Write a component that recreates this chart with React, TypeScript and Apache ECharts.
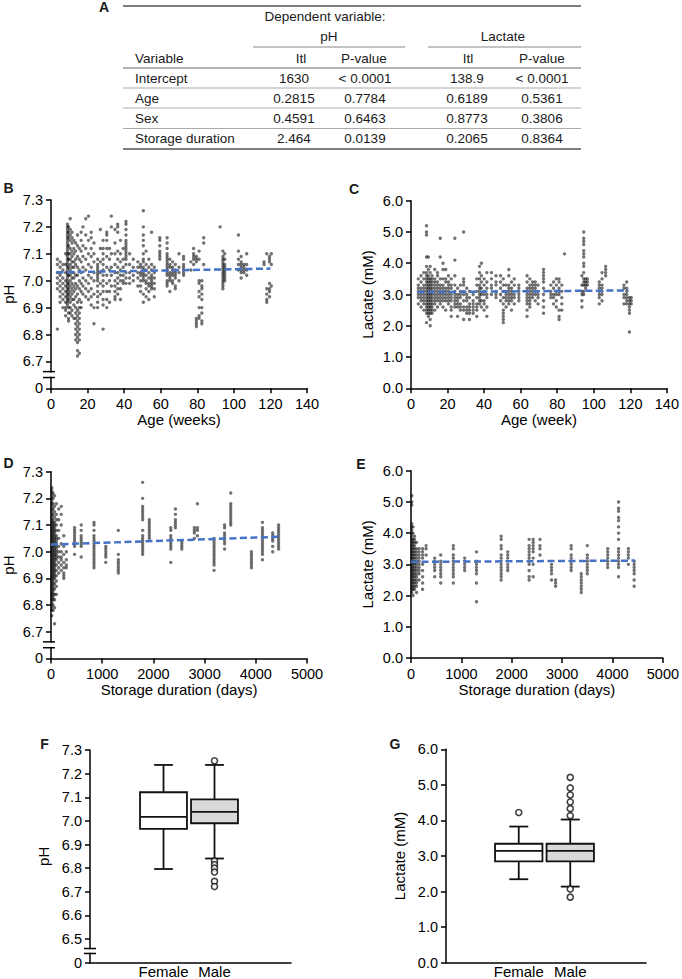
import React, { useEffect, useRef } from 'react';
import * as echarts from 'echarts';

const FONT = '"Liberation Sans", Arial, Helvetica, sans-serif';

// ---------- Table (panel A) ----------
const tableVariables = ['Intercept', 'Age', 'Sex', 'Storage duration'];
const pHTl = ['1630', '0.2815', '0.4591', '2.464'];
const pHP = ['< 0.0001', '0.7784', '0.6463', '0.0139'];
const lacTl = ['138.9', '0.6189', '0.8773', '0.2065'];
const lacP = ['< 0.0001', '0.5361', '0.3806', '0.8364'];

// ---------- Scatter data: [x, [y values]] ----------
const ageVsPH: [number, number[]][] = [
  [3.5, [7.08, 7.06, 7.03, 7.01, 6.99, 6.97, 6.82]],
  [5, [7.07, 7.05, 7.03, 7.02, 7.0, 6.98, 6.96, 6.94, 6.92]],
  [6.5, [7.06, 7.04, 7.01, 6.99, 6.97, 6.95, 6.93, 6.9]],
  [8, [7.1, 7.06, 7.03, 7.0, 6.98, 6.96, 6.94, 6.92, 6.9, 6.89, 6.87]],
  [9, [7.21, 7.2, 7.19, 7.18, 7.17, 7.16, 7.15, 7.14, 7.13, 7.12, 7.11, 7.1, 7.09, 7.08, 7.07, 7.06, 7.05, 7.04, 7.03, 7.02, 7.01, 7.0, 6.99, 6.98, 6.97, 6.96, 6.95, 6.94, 6.93, 6.92, 6.91]],
  [9.6, [7.2, 7.18, 7.16, 7.13, 7.1, 7.08, 7.05, 7.02, 6.99, 6.97, 6.95, 6.93, 6.9, 6.88, 6.86, 6.85]],
  [10.5, [7.23, 7.19, 7.17, 7.15, 7.12, 7.1, 7.08, 7.06, 7.04, 7.02, 7.0, 6.98, 6.96, 6.94, 6.92, 6.9, 6.88]],
  [11.5, [7.18, 7.16, 7.14, 7.11, 7.09, 7.07, 7.05, 7.03, 7.01, 6.99, 6.97, 6.95, 6.93, 6.89, 6.87]],
  [12.5, [7.15, 7.12, 7.1, 7.07, 7.05, 7.03, 7.01, 6.98, 6.96, 6.93, 6.91, 6.86]],
  [13.5, [7.14, 7.11, 7.08, 7.06, 7.02, 6.99, 6.97, 6.94, 6.9, 6.88, 6.86, 6.84, 6.82, 6.8, 6.78]],
  [14.5, [7.17, 7.13, 7.09, 7.05, 7.02, 6.98, 6.95, 6.92, 6.89, 6.87, 6.85, 6.83, 6.81, 6.79, 6.77, 6.74, 6.72]],
  [15.5, [7.12, 7.08, 7.04, 7.0, 6.97, 6.93, 6.9, 6.88, 6.86, 6.84, 6.82, 6.8, 6.78, 6.73]],
  [16.5, [7.18, 7.15, 7.11, 7.07, 7.03, 6.99, 6.96, 6.92, 6.9]],
  [17.5, [7.2, 7.13, 7.09, 7.05, 7.01, 6.98, 6.95]],
  [19, [7.23, 7.17, 7.12, 7.08, 7.04, 7.0, 6.97, 6.94]],
  [20.5, [7.24, 7.15, 7.1, 7.06, 7.02, 6.99, 6.96, 6.93]],
  [22, [7.18, 7.16, 7.12, 7.09, 7.05, 7.01, 6.97, 6.94, 6.91]],
  [23.5, [7.14, 7.1, 7.07, 7.03, 7.0, 6.95, 6.9, 6.84]],
  [25.5, [7.08, 7.06, 7.05, 7.04, 7.03, 7.02, 7.01, 7.0, 6.98, 6.96, 6.94, 6.92, 6.9]],
  [27, [7.19, 7.12, 7.07, 7.03, 6.99, 6.95]],
  [28.5, [7.15, 7.12, 7.1, 7.08, 7.06, 7.04, 7.02, 7.0, 6.98, 6.96, 6.93, 6.91, 6.82]],
  [30.5, [7.18, 7.17, 7.15, 7.12, 7.09, 7.05, 7.02, 6.99, 6.96, 6.93, 6.9]],
  [32, [7.12, 7.08, 7.04, 7.0, 6.96, 6.92]],
  [33, [7.24, 7.2, 7.1, 7.05, 7.02, 6.98]],
  [35, [7.19, 7.14, 7.1, 7.06, 7.03, 7.0, 6.98, 6.96, 6.94, 6.93]],
  [36.5, [7.21, 7.2, 7.18, 7.11, 7.08, 7.05, 7.03, 7.01, 6.99, 6.97, 6.95]],
  [38, [7.15, 7.1, 7.07, 7.04, 7.02, 7.0, 6.97, 6.93]],
  [39.5, [7.12, 7.08, 7.05, 7.02, 7.0, 6.99]],
  [41, [7.22, 7.21, 7.19, 7.17, 7.15, 7.14, 7.13, 7.12, 7.11, 7.1, 7.09, 7.08, 7.06, 7.03, 7.01, 6.99]],
  [43, [7.1, 7.06, 7.03, 7.01, 6.99]],
  [45, [7.08, 7.05, 7.02, 7.0]],
  [47.5, [7.07, 7.05, 7.03, 7.01, 6.98]],
  [49, [7.06, 7.05, 7.03, 7.02, 7.0, 6.98, 6.96]],
  [50.5, [7.26, 7.2, 7.17, 7.15, 7.13, 7.1, 7.08, 7.07, 7.05, 7.04, 7.03, 7.02, 7.01, 7.0, 6.95, 6.92]],
  [52, [7.11, 7.06, 7.04, 7.02, 7.0, 6.99, 6.97, 6.94]],
  [53.5, [7.08, 7.05, 7.03, 7.01, 6.99, 6.98, 6.96, 6.93]],
  [55, [7.18, 7.06, 7.04, 7.02, 7.01, 7.0, 6.99, 6.98, 6.97]],
  [56.5, [7.05, 7.03, 7.01, 6.99, 6.97, 6.94]],
  [59.5, [7.16, 7.15, 7.13, 7.11, 7.1, 7.09, 7.08]],
  [63.5, [7.16, 7.14, 7.12, 7.1, 7.09, 7.08, 7.07, 7.06, 7.05, 7.04, 7.03, 7.02, 7.0, 6.99, 6.98]],
  [65, [7.08, 7.06, 7.05, 7.03, 7.02, 7.01, 7.0, 6.96]],
  [66.5, [7.07, 7.05, 7.04, 7.03, 7.02, 7.0, 6.99]],
  [68, [7.06, 7.04, 7.03, 7.02, 7.01, 6.98, 6.97]],
  [70, [7.1, 7.05, 7.03, 7.0]],
  [72.5, [7.09, 7.08, 7.06, 7.05, 7.04, 7.03, 7.02]],
  [76.5, [7.07, 7.04]],
  [78, [7.12, 7.1, 7.09, 7.08, 7.06]],
  [79.5, [7.09, 7.08, 7.07, 6.86, 6.85, 6.84, 6.83]],
  [81, [7.11, 7.08, 7.0, 6.99, 6.96, 6.94, 6.9, 6.87, 6.86]],
  [82.5, [7.0, 6.98, 6.97, 6.95, 6.93, 6.9, 6.88, 6.85, 6.84]],
  [83.5, [7.16, 7.14, 7.06]],
  [92.5, [7.2]],
  [94, [7.11, 7.09, 7.08, 7.07, 7.06, 7.05, 7.04, 7.03, 7.02, 7.01, 7.0, 6.99, 6.98, 6.97]],
  [95, [7.1, 7.08, 7.06, 7.05, 7.04, 7.03, 7.02, 7.01, 7.0]],
  [102.5, [7.17, 7.11, 7.08, 7.06, 7.04]],
  [104, [7.09, 7.07, 7.06, 7.05, 7.04, 7.03, 7.01]],
  [105.5, [7.06, 7.05, 7.04, 7.03]],
  [107, [7.1, 7.06, 7.04, 7.02]],
  [116.5, [7.07, 7.06]],
  [118, [7.1, 6.97, 6.95, 6.93, 6.92]],
  [119.5, [7.09, 7.08, 7.07, 6.99, 6.97, 6.96, 6.94]],
  [120.5, [7.1, 7.06, 6.98]],
];

const ageVsLac: [number, number[]][] = [
  [4, [3.5, 3.3, 3.2, 3.1, 3.0, 2.9, 2.7]],
  [5.5, [3.6, 3.4, 3.2, 3.1, 3.0, 2.9, 2.8, 2.6]],
  [7, [3.7, 3.5, 3.3, 3.2, 3.1, 3.0, 2.9, 2.8, 2.7, 2.5]],
  [8.5, [5.2, 5.0, 4.9, 4.2, 3.9, 3.7, 3.6, 3.5, 3.4, 3.3, 3.2, 3.1, 3.0, 2.9, 2.8, 2.7, 2.6, 2.5, 2.4, 2.1]],
  [9.5, [4.2, 3.8, 3.6, 3.5, 3.4, 3.3, 3.2, 3.1, 3.0, 2.9, 2.8, 2.7, 2.6, 2.5, 2.4, 2.3]],
  [10.5, [3.9, 3.7, 3.5, 3.4, 3.3, 3.2, 3.1, 3.0, 2.9, 2.8, 2.7, 2.6, 2.5, 2.4, 2.2, 2.0]],
  [11.5, [3.6, 3.5, 3.4, 3.3, 3.2, 3.1, 3.0, 2.9, 2.8, 2.7, 2.6, 2.5, 2.4]],
  [13, [3.8, 3.5, 3.4, 3.3, 3.2, 3.1, 3.0, 2.9, 2.8, 2.7, 2.5]],
  [14.5, [3.7, 3.6, 3.4, 3.3, 3.2, 3.1, 3.0, 2.9, 2.8, 2.6]],
  [16, [4.8, 4.2, 3.5, 3.3, 3.2, 3.1, 3.0, 2.9, 2.8, 2.7]],
  [17.5, [4.0, 3.8, 3.5, 3.3, 3.2, 3.1, 3.0, 2.9, 2.8, 2.6]],
  [19, [3.8, 3.5, 3.4, 3.2, 3.1, 3.0, 2.9, 2.8, 2.5]],
  [20.5, [3.6, 3.4, 3.3, 3.2, 3.1, 3.0, 2.9, 2.8, 2.7]],
  [22, [3.5, 3.3, 3.2, 3.0, 2.9, 2.8, 2.6, 2.5, 2.3]],
  [24, [4.8, 4.1, 3.6, 3.3, 3.1, 3.0, 2.9, 2.8, 2.7, 2.6]],
  [25.5, [3.2, 3.0, 2.9, 2.8, 2.7, 2.6, 2.3]],
  [27, [3.3, 3.1, 3.0, 2.9, 2.7, 2.6, 2.5]],
  [28.8, [5.0, 3.5, 3.4, 3.3, 3.1, 3.0, 2.8, 2.6, 2.5, 2.2]],
  [30.5, [3.2, 3.0, 2.9, 2.8, 2.6, 2.5, 2.4]],
  [32, [3.1, 2.9, 2.7, 2.6, 2.5, 2.4, 2.2]],
  [34, [3.0, 2.8, 2.7, 2.6, 2.5, 2.4]],
  [36, [3.5, 3.3, 3.1, 2.9, 2.7, 2.6, 2.5, 2.3]],
  [37.5, [3.9, 3.7, 3.5, 3.3, 3.2, 3.1, 3.0, 2.9, 2.8, 2.7]],
  [38.5, [4.0, 3.6, 3.4, 3.2, 3.0, 2.8, 2.6]],
  [40, [3.5, 3.3, 3.1, 3.0, 2.8, 2.7, 2.5]],
  [41.5, [3.7, 3.4, 3.2, 3.0, 2.9, 2.6, 2.3]],
  [44, [3.7, 3.5, 3.3, 3.2, 3.0]],
  [46.5, [3.6, 3.4, 3.3, 3.1, 3.0, 2.9]],
  [49, [3.6, 3.4, 3.2, 3.0, 2.8]],
  [50.5, [3.5, 3.3, 3.1, 2.9, 2.7, 2.5, 2.4, 2.3, 2.2, 2.1]],
  [52, [3.3, 3.1, 3.0, 2.9, 2.8, 2.6]],
  [53.5, [3.8, 3.6, 3.3, 3.2, 3.1, 3.0, 2.9, 2.8, 2.7]],
  [55, [3.4, 3.2, 3.1, 3.0, 2.9, 2.8, 2.5]],
  [56.5, [3.5, 3.3, 3.0, 2.9, 2.7]],
  [59, [3.3, 3.2, 3.1, 3.0, 2.9, 2.8]],
  [63.5, [3.6, 3.4, 3.2, 3.1, 3.0, 2.9, 2.8, 2.7, 2.5, 2.3]],
  [65, [3.5, 3.3, 3.2, 3.1, 3.0, 2.9, 2.8, 2.7, 2.6]],
  [66.5, [3.4, 3.3, 3.2, 3.1, 3.0, 2.9]],
  [68, [3.4, 3.3, 3.2, 3.1, 3.0, 2.8]],
  [69.5, [3.3, 3.1, 3.0, 2.9, 2.7]],
  [72.5, [3.8, 3.7, 3.6, 3.5, 3.4, 3.2, 3.0, 2.8, 2.6, 2.4]],
  [76.5, [3.3, 3.1, 3.0, 2.9]],
  [78, [3.4, 3.2, 3.0, 2.9, 2.7]],
  [79.5, [3.5, 3.3, 3.1, 3.0, 2.8, 2.6]],
  [81, [3.5, 3.4, 3.2, 3.1, 3.0, 2.5, 2.3, 2.2]],
  [82.5, [3.3, 3.1, 2.9, 2.7, 2.5]],
  [84, [4.3]],
  [93.5, [3.6, 3.3, 3.1, 3.0, 2.8, 2.6]],
  [94.5, [5.0, 4.8, 4.7, 4.6, 4.4, 4.3, 4.2, 4.0, 3.9, 3.7, 3.5, 3.4, 3.3, 3.1, 3.0]],
  [95.5, [3.5, 3.4, 3.3, 3.2]],
  [96.5, [3.5, 3.4, 3.3]],
  [103, [3.4, 3.3, 3.2, 3.1, 3.0, 2.9, 2.7]],
  [104.5, [3.7, 3.5, 3.3, 3.2, 3.1, 3.0, 2.8]],
  [106.5, [3.9, 3.8, 3.7, 3.6]],
  [116.5, [3.3, 3.2, 3.0, 2.9, 2.7]],
  [118, [3.4, 3.2, 3.1, 3.0, 2.9, 2.8, 2.7]],
  [119.5, [2.9, 2.8, 2.7, 2.6, 2.5, 2.4, 1.8]],
  [120.5, [2.9, 2.8, 2.7]],
];

const storageVsPH: [number, number[]][] = [
  [15, [7.24, 7.23, 7.22, 7.21, 7.2, 7.19, 7.18, 7.17, 7.16, 7.15, 7.14, 7.13, 7.12, 7.11, 7.1, 7.09, 7.08, 7.07, 7.06, 7.05, 7.04, 7.03, 7.02, 7.01, 7.0, 6.99, 6.98, 6.97, 6.96, 6.95, 6.94, 6.93, 6.92, 6.91, 6.9, 6.89, 6.88, 6.87, 6.86, 6.85, 6.84, 6.83, 6.82, 6.81, 6.8, 6.79, 6.78, 6.76]],
  [40, [7.22, 7.2, 7.18, 7.16, 7.14, 7.12, 7.11, 7.1, 7.09, 7.08, 7.07, 7.06, 7.05, 7.04, 7.03, 7.02, 7.01, 7.0, 6.99, 6.98, 6.97, 6.96, 6.95, 6.94, 6.93, 6.92, 6.91, 6.9, 6.89, 6.88, 6.87, 6.86, 6.85, 6.84, 6.83, 6.82, 6.8, 6.78]],
  [70, [7.21, 7.17, 7.15, 7.13, 7.11, 7.1, 7.09, 7.08, 7.07, 7.06, 7.05, 7.04, 7.03, 7.02, 7.01, 7.0, 6.99, 6.98, 6.97, 6.96, 6.95, 6.94, 6.93, 6.92, 6.91, 6.9, 6.88, 6.86, 6.84, 6.82, 6.79, 6.73]],
  [105, [7.18, 7.14, 7.12, 7.1, 7.08, 7.06, 7.05, 7.04, 7.03, 7.02, 7.01, 7.0, 6.99, 6.98, 6.97, 6.95, 6.93, 6.91, 6.89, 6.87, 6.84]],
  [150, [7.16, 7.12, 7.08, 7.05, 7.02, 7.0, 6.98, 6.96, 6.94, 6.92]],
  [200, [7.17, 7.14, 7.1, 7.03, 7.0, 6.98, 6.97, 6.95, 6.93]],
  [250, [7.06, 7.02, 6.99, 6.96, 6.94, 6.92, 6.91, 6.9]],
  [300, [7.0, 6.97, 6.95, 6.94]],
  [460, [7.09, 7.08, 7.07, 7.06, 7.05, 7.04, 7.03, 7.02, 6.99]],
  [590, [7.1, 7.08, 7.06, 7.05, 7.04, 7.03, 7.02, 6.98]],
  [840, [7.11, 7.1, 7.08, 7.06, 7.05, 7.04, 7.03, 7.02, 7.01, 7.0, 6.99, 6.98, 6.97, 6.96, 6.95, 6.94]],
  [1070, [7.02, 7.01, 7.0, 6.99, 6.98, 6.96]],
  [1315, [7.08, 6.99, 6.97, 6.96, 6.95, 6.94, 6.93, 6.92]],
  [1790, [7.26, 7.2, 7.17, 7.16, 7.15, 7.14, 7.13, 7.12, 7.08, 7.06, 7.05, 7.04, 7.03, 7.02, 7.01, 7.0, 6.99]],
  [1920, [7.12, 7.11, 7.1, 7.09, 7.08, 7.07, 7.06, 7.05]],
  [2340, [7.09, 7.08, 7.06, 7.05, 7.04, 7.03, 7.02, 7.01, 6.96]],
  [2430, [7.16, 7.14, 7.12, 7.11, 7.1, 7.09]],
  [2555, [7.04, 7.03, 7.02, 7.01]],
  [2800, [7.09, 7.08, 7.07, 7.05]],
  [2860, [7.18, 7.09, 7.08, 7.06]],
  [3185, [7.05, 7.04, 7.03, 7.02, 7.01, 7.0, 6.99, 6.98, 6.97, 6.96, 6.95, 6.93]],
  [3390, [7.1, 7.09, 7.07, 7.06, 7.05, 7.04, 7.03, 7.01]],
  [3510, [7.22, 7.18, 7.17, 7.16, 7.15, 7.14, 7.13, 7.12, 7.11, 7.1]],
  [3915, [7.0, 6.99, 6.98, 6.97, 6.96, 6.95, 6.94]],
  [4130, [7.11, 7.09, 7.08, 7.07, 7.06, 7.05, 7.04, 7.03, 7.02, 7.01, 7.0, 6.99, 6.97]],
  [4330, [7.07, 7.06, 7.05, 7.04, 7.02, 7.0]],
  [4445, [7.1, 7.09, 7.08, 7.07, 7.06, 7.05, 7.04, 7.03, 7.02, 7.01]],
];

const storageVsLac: [number, number[]][] = [
  [15, [5.2, 5.0, 4.9, 4.3, 4.2, 4.1, 4.0, 3.9, 3.8, 3.7, 3.6, 3.5, 3.4, 3.3, 3.2, 3.1, 3.0, 2.9, 2.8, 2.7, 2.6, 2.5, 2.4, 2.3, 2.2, 2.1]],
  [40, [4.2, 4.0, 3.8, 3.7, 3.6, 3.5, 3.4, 3.3, 3.2, 3.1, 3.0, 2.9, 2.8, 2.7, 2.6, 2.5, 2.4, 2.3, 2.2, 2.0]],
  [70, [3.9, 3.8, 3.7, 3.6, 3.5, 3.4, 3.3, 3.2, 3.1, 3.0, 2.9, 2.8, 2.7, 2.6, 2.5, 2.4, 2.3, 2.2]],
  [110, [3.7, 3.5, 3.4, 3.3, 3.2, 3.1, 3.0, 2.9, 2.8, 2.7, 2.6, 2.5, 2.4, 2.3, 2.1]],
  [160, [3.5, 3.4, 3.3, 3.2, 3.1, 3.0, 2.9, 2.8, 2.7, 2.5]],
  [230, [3.5, 3.4, 3.3, 3.2, 3.0, 2.8, 2.6, 2.4, 2.2]],
  [300, [3.6, 3.5, 3.3]],
  [470, [3.2, 3.1, 3.0, 2.9, 2.8, 2.6]],
  [590, [3.3, 3.1, 3.0, 2.9, 2.8, 2.7, 2.6, 2.4]],
  [840, [3.6, 3.5, 3.3, 3.2, 3.1, 3.0, 2.9, 2.8, 2.7, 2.6, 2.4]],
  [1065, [3.2, 3.1, 3.0, 2.9, 2.8]],
  [1300, [3.4, 3.1, 3.0, 2.9, 2.8, 2.7, 2.4, 1.8]],
  [1790, [3.9, 3.8, 3.6, 3.5, 3.3, 3.2, 3.1, 3.0, 2.9, 2.8, 2.7, 2.6, 2.5]],
  [1920, [3.4, 3.3, 3.2, 3.0, 2.9, 2.8]],
  [2345, [3.8, 3.6, 3.5, 3.4, 3.3, 3.2, 3.1, 3.0, 2.8, 2.6, 2.5]],
  [2425, [3.8, 3.7, 3.6, 3.5, 3.4, 3.2, 3.0, 2.6]],
  [2560, [3.8, 3.6, 3.5, 3.3]],
  [2790, [3.0, 2.9, 2.8, 2.7, 2.5]],
  [2870, [2.5, 2.4, 2.3]],
  [3180, [3.6, 3.5, 3.3, 3.2, 3.1, 3.0, 2.9, 2.8]],
  [3380, [2.7, 2.6, 2.5, 2.4, 2.3, 2.2, 2.1]],
  [3500, [3.6, 3.3, 3.2, 3.1, 3.0, 2.9, 2.8, 2.7]],
  [3905, [3.5, 3.4, 3.3, 3.2, 3.1, 3.0, 2.9]],
  [4120, [5.0, 4.8, 4.7, 4.5, 4.4, 4.2, 4.0, 3.8, 3.5, 3.4, 3.3, 3.2, 3.1, 3.0, 2.9, 2.6]],
  [4315, [3.5, 3.4, 3.3, 3.2, 3.0]],
  [4430, [3.1, 3.0, 2.9, 2.8, 2.7, 2.5, 2.3]],
];

// ---------- Regression (fit) lines ----------
const fitAgePH = [[3, 7.031], [120, 7.045]];
const fitAgeLac = [[3.5, 3.075], [119, 3.13]];
const fitStoragePH = [[0, 7.027], [4450, 7.056]];
const fitStorageLac = [[0, 3.08], [4440, 3.12]];

// ---------- Box plots: [categoryIndex, min, Q1, median, Q3, max] ----------
const boxCategories = ['Female', 'Male'];
const boxFills = ['#ffffff', '#d9d9d9'];
const phBox = [
  [0, 6.79, 6.962, 7.013, 7.119, 7.236],
  [1, 6.835, 6.986, 7.035, 7.088, 7.236],
];
const phOutliers = [[1, 7.254], [1, 6.824], [1, 6.809], [1, 6.794], [1, 6.777], [1, 6.737], [1, 6.715]];
const lacBox = [
  [0, 2.3, 2.81, 3.11, 3.31, 3.8],
  [1, 2.09, 2.81, 3.11, 3.31, 4.0],
];
const lacOutliers = [[0, 4.2], [1, 5.2], [1, 4.9], [1, 4.7], [1, 4.5], [1, 4.31], [1, 4.11], [1, 2.02], [1, 1.79]];

const flatten = (cols: [number, number[]][]) => cols.flatMap(([x, ys]) => ys.map((y) => [x, y]));

export default function App() {
  const ref = useRef<HTMLDivElement>(null);

  useEffect(() => {
    if (!ref.current) return;
    const chart = echarts.init(ref.current, undefined, { renderer: 'svg' });

    const axisLine = { show: true, lineStyle: { color: '#000', width: 1.5 } };
    const axisTick = { show: true, inside: false, length: 5, lineStyle: { color: '#000', width: 1.5 } };
    const axisLabel = { color: '#000', fontSize: 14.5, fontFamily: FONT, margin: 8 };
    const nameTextStyle = { color: '#000', fontSize: 15, fontFamily: FONT };
    const noSplit = { show: false };

    const phFmt0 = (zeroAt: number) => (v: number) => (Math.abs(v - zeroAt) < 1e-6 ? '0' : v.toFixed(1));

    const grids = [
      { left: 49, top: 200, width: 258, height: 188.3 }, // B
      { left: 411, top: 200.7, width: 259, height: 187.6 }, // C
      { left: 49, top: 471.7, width: 258, height: 186.7 }, // D
      { left: 411, top: 470.7, width: 259, height: 187.3 }, // E
      { left: 90, top: 750, width: 201, height: 212.7 }, // F outer
      { left: 138, top: 750, width: 102, height: 212.7 }, // F inner
      { left: 446, top: 749.3, width: 200, height: 213.4 }, // G outer
      { left: 493, top: 749.3, width: 103, height: 213.4 }, // G inner
    ];

    const scatterX = (gi: number, max: number, interval: number, name: string) => ({
      gridIndex: gi, type: 'value', min: 0, max, interval, name, nameLocation: 'middle', nameGap: 24,
      nameTextStyle, axisLine, axisTick, axisLabel: { ...axisLabel, formatter: (v: number) => String(v) }, splitLine: noSplit,
    });
    const yPH = (gi: number, min: number, name: string) => ({
      gridIndex: gi, type: 'value', min, max: 7.3, interval: 0.1, name, nameLocation: 'middle', nameGap: 35,
      nameTextStyle, axisLine, axisTick, axisLabel: { ...axisLabel, formatter: phFmt0(min) }, splitLine: noSplit,
    });
    const yLac = (gi: number, name: string) => ({
      gridIndex: gi, type: 'value', min: 0, max: 6, interval: 1, name, nameLocation: 'middle', nameGap: 36,
      nameTextStyle, axisLine, axisTick, axisLabel: { ...axisLabel, formatter: (v: number) => v.toFixed(1) }, splitLine: noSplit,
    });
    const outerX = (gi: number) => ({
      gridIndex: gi, type: 'value', min: 0, max: 1, axisLine, axisTick: { show: false }, axisLabel: { show: false }, splitLine: noSplit,
    });
    const innerX = (gi: number) => ({
      gridIndex: gi, type: 'category', data: boxCategories, axisLine: { show: false }, axisTick: { show: false },
      axisLabel: { color: '#000', fontSize: 15, fontFamily: FONT, margin: 4, interval: 0, hideOverlap: false },
    });
    const hiddenY = (gi: number, min: number, max: number) => ({
      gridIndex: gi, type: 'value', min, max, show: false, splitLine: noSplit,
    });

    const pointStyle = { color: 'rgba(10,10,10,0.72)' };
    const scatter = (idx: number, cols: [number, number[]][]) => ({
      type: 'scatter', xAxisIndex: idx, yAxisIndex: idx, data: flatten(cols), symbolSize: 3.4,
      itemStyle: pointStyle, silent: true,
    });
    const fit = (idx: number, data: number[][]) => ({
      type: 'line', xAxisIndex: idx, yAxisIndex: idx, data, symbol: 'none', z: 5,
      lineStyle: { color: '#4472C4', width: 2.5, type: [7, 3.5] },
    });
    const box = (idx: number, data: number[][]) => ({
      type: 'custom', xAxisIndex: idx, yAxisIndex: idx, data,
      encode: { x: 0, y: [1, 2, 3, 4, 5] },
      renderItem: (params: any, api: any) => {
        const c = api.value(0);
        const cx = api.coord([c, api.value(3)])[0];
        const yMin = api.coord([c, api.value(1)])[1];
        const yQ1 = api.coord([c, api.value(2)])[1];
        const yMed = api.coord([c, api.value(3)])[1];
        const yQ3 = api.coord([c, api.value(4)])[1];
        const yMax = api.coord([c, api.value(5)])[1];
        const bw = api.size([1, 0])[0] * 0.92;
        const cap = bw * 0.4;
        const st = { stroke: '#111', lineWidth: 1.8 };
        return {
          type: 'group',
          children: [
            { type: 'line', shape: { x1: cx, y1: yMax, x2: cx, y2: yQ3 }, style: st },
            { type: 'line', shape: { x1: cx, y1: yQ1, x2: cx, y2: yMin }, style: st },
            { type: 'line', shape: { x1: cx - cap / 2, y1: yMax, x2: cx + cap / 2, y2: yMax }, style: st },
            { type: 'line', shape: { x1: cx - cap / 2, y1: yMin, x2: cx + cap / 2, y2: yMin }, style: st },
            { type: 'rect', shape: { x: cx - bw / 2, y: yQ3, width: bw, height: yQ1 - yQ3 }, style: { ...st, fill: boxFills[params.dataIndex] } },
            { type: 'line', shape: { x1: cx - bw / 2, y1: yMed, x2: cx + bw / 2, y2: yMed }, style: st },
          ],
        };
      },
    });
    const outliers = (idx: number, data: number[][]) => ({
      type: 'scatter', xAxisIndex: idx, yAxisIndex: idx, data, symbol: 'circle', symbolSize: 6, z: 6,
      itemStyle: { color: '#fff', borderColor: '#111', borderWidth: 1.6 },
    });

    chart.setOption({
      animation: false,
      backgroundColor: '#fff',
      grid: grids,
      xAxis: [
        scatterX(0, 140, 20, 'Age (weeks)'),
        scatterX(1, 140, 20, 'Age (week)'),
        scatterX(2, 5000, 1000, 'Storage duration (days)'),
        scatterX(3, 5000, 1000, 'Storage duration (days)'),
        outerX(4),
        innerX(5),
        outerX(6),
        innerX(7),
      ],
      yAxis: [
        yPH(0, 6.6, 'pH'),
        yLac(1, 'Lactate (mM)'),
        yPH(2, 6.6, 'pH'),
        yLac(3, 'Lactate (mM)'),
        { ...yPH(4, 6.4, 'pH'), nameGap: 39 },
        hiddenY(5, 6.4, 7.3),
        { ...yLac(6, 'Lactate (mM)'), nameGap: 39 },
        hiddenY(7, 0, 6),
      ],
      series: [
        scatter(0, ageVsPH), fit(0, fitAgePH),
        scatter(1, ageVsLac), fit(1, fitAgeLac),
        scatter(2, storageVsPH), fit(2, fitStoragePH),
        scatter(3, storageVsLac), fit(3, fitStorageLac),
        box(5, phBox), outliers(5, phOutliers),
        box(7, lacBox), outliers(7, lacOutliers),
      ],
    });

    // ---------- graphic overlays: table, panel letters, axis breaks ----------
    const txt = (text: string, x: number, y: number, align: string, font = `13.5px ${FONT}`) => ({
      type: 'text', z: 50,
      style: { text, x, y, font, fill: '#1a1a1a', align, verticalAlign: 'middle', textAlign: align, textVerticalAlign: 'middle' },
    });
    const hline = (x1: number, x2: number, y: number, stroke: string, lineWidth: number) => ({
      type: 'line', z: 50, shape: { x1, y1: y, x2, y2: y }, style: { stroke, lineWidth },
    });

    const rowsY = [78, 98, 118, 138];
    const table: any[] = [
      hline(123, 581, 6, '#555', 1.5),
      txt('Dependent variable:', 325, 16, 'center'),
      txt('pH', 329, 36, 'center'),
      txt('Lactate', 503, 36, 'center'),
      hline(253, 405, 47, '#888', 1),
      hline(428, 581, 47, '#888', 1),
      txt('Variable', 135, 58, 'left'),
      txt('Itl', 301, 58, 'center'),
      txt('P-value', 364, 58, 'center'),
      txt('Itl', 468, 58, 'center'),
      txt('P-value', 542, 58, 'center'),
      hline(123, 581, 68, '#666', 1.2),
      hline(123, 581, 88, '#aaa', 1),
      hline(123, 581, 108, '#aaa', 1),
      hline(123, 581, 128.5, '#aaa', 1),
      hline(123, 581, 149, '#555', 1.5),
    ];
    tableVariables.forEach((v, i) => {
      table.push(txt(v, 135, rowsY[i], 'left'));
      table.push(txt(pHTl[i], 294, rowsY[i], 'center'));
      table.push(txt(pHP[i], 365, rowsY[i], 'center'));
      table.push(txt(lacTl[i], 467, rowsY[i], 'center'));
      table.push(txt(lacP[i], 542, rowsY[i], 'center'));
    });

    const bold = `bold 14px ${FONT}`;
    const letters = [
      txt('A', 104, 7, 'center', bold),
      txt('B', 8.5, 188, 'center', bold),
      txt('C', 354, 189, 'center', bold),
      txt('D', 8.5, 463, 'center', bold),
      txt('E', 361, 463.5, 'center', bold),
      txt('F', 44.5, 744, 'center', bold),
      txt('G', 395, 744, 'center', bold),
    ];

    const breaks: any[] = [];
    const addBreak = (axisIdx: number, axisX: number, vHigh: number, vLow: number) => {
      const y1 = chart.convertToPixel({ yAxisIndex: axisIdx } as any, vHigh) as unknown as number;
      const y2 = chart.convertToPixel({ yAxisIndex: axisIdx } as any, vLow) as unknown as number;
      breaks.push({
        type: 'rect', z: 60, shape: { x: axisX - 3, y: y1 + 0.8, width: 6, height: y2 - y1 - 1.6 },
        style: { fill: '#fff' },
      });
      breaks.push({ type: 'line', z: 61, shape: { x1: axisX - 6, y1, x2: axisX + 6, y2: y1 }, style: { stroke: '#000', lineWidth: 1.5 } });
      breaks.push({ type: 'line', z: 61, shape: { x1: axisX - 6, y1: y2, x2: axisX + 6, y2 }, style: { stroke: '#000', lineWidth: 1.5 } });
    };
    addBreak(0, 49, 6.662, 6.64);
    addBreak(2, 49, 6.662, 6.64);
    addBreak(4, 90, 6.46, 6.439);

    chart.setOption({ graphic: [...table, ...letters, ...breaks] });

    return () => chart.dispose();
  }, []);

  return (
    <div
      ref={ref}
      style={{ position: 'absolute', left: 0, top: 0, width: 682, height: 979, background: '#fff' }}
    />
  );
}
